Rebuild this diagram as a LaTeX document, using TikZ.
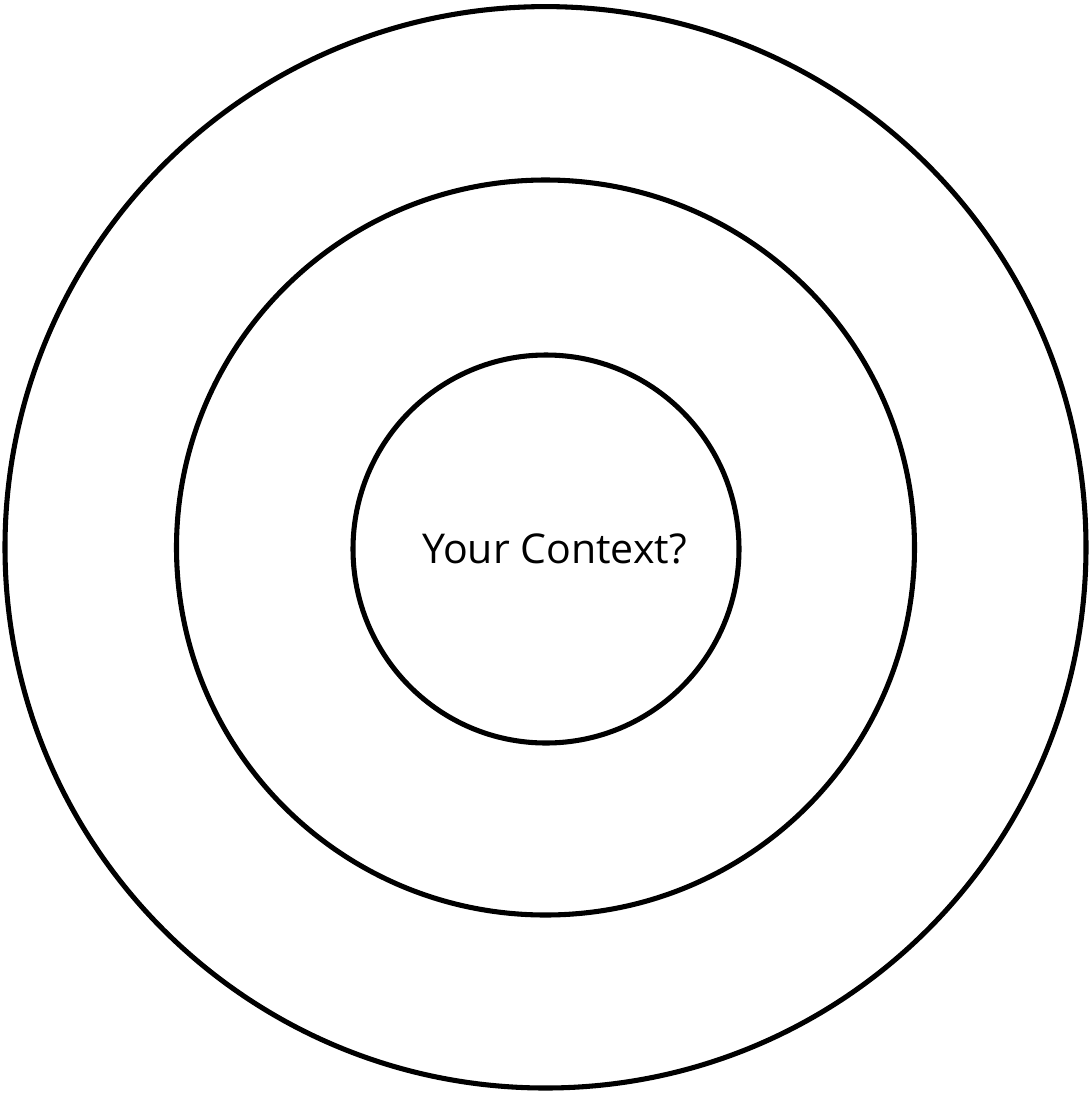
\documentclass[tikz,border=0pt]{standalone}
\usepackage{fontspec}
\setmainfont{Open Sans}
\begin{document}
\begin{tikzpicture}[x=0.75pt,y=-0.75pt,
  ring/.style={draw=black,line width=3.8pt}]
\useasboundingbox (0,0) rectangle (1089,1093);
\path[ring] (545.5,547.3) ellipse [x radius=540.5,y radius=540.7];
\path[ring] (545.5,547.5) ellipse [x radius=369,y radius=367.5];
\path[ring] (546,549) ellipse [x radius=193,y radius=194];
\node[font=\fontsize{30.8}{36}\selectfont,inner sep=0pt,anchor=base] (t) at (554.5,563) {Your Context?};
\end{tikzpicture}
\end{document}
